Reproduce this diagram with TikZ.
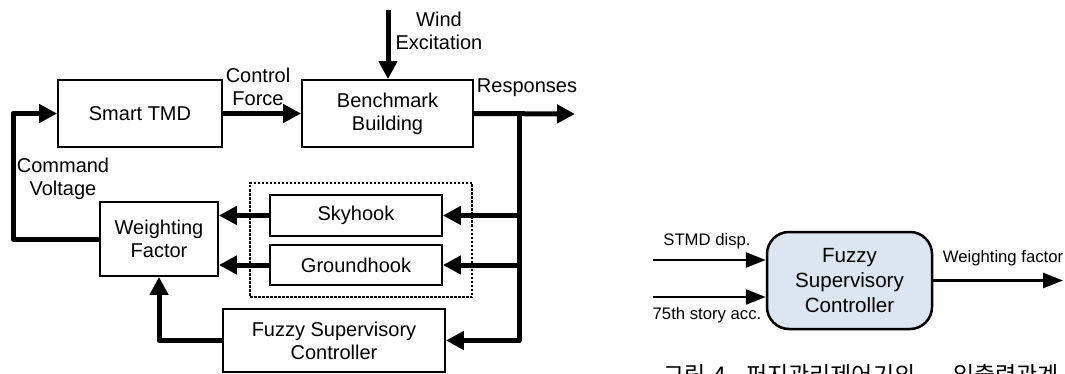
\documentclass[tikz,border=0pt]{standalone}
\usepackage{fontspec}
\setmainfont{Liberation Sans}
\newfontfamily\krfont{Noto Sans CJK KR}
\usetikzlibrary{arrows.meta}
\definecolor{boxfill}{RGB}{220,230,242}
\begin{document}
\begin{tikzpicture}[x=1pt,y=-1pt,
  box/.style={draw,line width=1.8pt,inner sep=0pt,align=center,font=\fontsize{20}{23}\selectfont},
  lbl/.style={inner sep=0pt,align=center,font=\fontsize{20}{23}\selectfont},
  bus/.style={line width=5pt,line join=round},
  busarrow/.style={bus,-{Triangle[length=18pt,width=18pt]}},
  thinarrow/.style={line width=2.5pt,-{Triangle[length=20pt,width=15pt]}},
  small/.style={inner sep=0pt,font=\fontsize{16.7}{20}\selectfont},
  fuzzybox/.style={draw,line width=2.5pt,rounded corners=22pt,fill=boxfill,align=center,
    font=\fontsize{20.6}{25}\selectfont,minimum width=165pt,minimum height=97pt,inner sep=0pt}
]
\clip (0,0) rectangle (1065,374);
% left diagram
\node[box,minimum width=164pt,minimum height=67pt] (smart) at (140,113.5) {Smart TMD};
\node[box,minimum width=171pt,minimum height=67pt] (bench) at (387.5,113.5) {Benchmark\\Building};
\node[draw,line width=2pt,dash pattern=on 2.5pt off 1.5pt,minimum width=222pt,minimum height=114pt,inner sep=0pt] (group) at (361,240) {};
\node[box,minimum width=172pt,minimum height=41pt] (sky) at (356,215.5) {Skyhook};
\node[box,minimum width=172pt,minimum height=40pt] (ground) at (356,265) {Groundhook};
\node[box,minimum width=118pt,minimum height=74pt] (wf) at (159,239) {Weighting\\Factor};
\node[box,minimum width=222pt,minimum height=63pt] (fsc) at (334,340.5) {Fuzzy Supervisory\\Controller};

\node[lbl] (wind) at (439,31) {Wind\\Excitation};
\node[lbl] (cf) at (258,86.5) {Control\\Force};
\node[lbl] (resp) at (527,88) {Responses};
\node[lbl] (cv) at (63,178.5) {Command\\Voltage};

\coordinate (windsrc) at (388,10);
\coordinate (respend) at (575,114);
\coordinate (busx) at (519,114);
\coordinate (fbx) at (13,0);

\draw[busarrow] (smart.east) -- (bench.west);
\draw[busarrow] (windsrc) -- (windsrc |- bench.north);
\draw[busarrow] (bench.east) -- (respend);
\draw[busarrow] (busx) |- (fsc.east);
\draw[busarrow] (busx |- sky.east) -- (sky.east);
\draw[busarrow] (busx |- ground.east) -- (ground.east);
\draw[busarrow] (sky.west) -- (sky.west -| wf.east);
\draw[busarrow] (ground.west) -- (ground.west -| wf.east);
\draw[busarrow] (fsc.west) -| (wf.south);
\draw[busarrow] (wf.west) -| (fbx |- smart.west) -- (smart.west);

% right diagram
\node[fuzzybox] (fz) at (849.5,280.5) {Fuzzy\\Supervisory\\Controller};
\coordinate (in1) at (653,260);
\coordinate (in2) at (653,297);
\coordinate (out) at (1063,280.5);
\draw[thinarrow] (in1) -- (in1 -| fz.west);
\draw[thinarrow] (in2) -- (in2 -| fz.west);
\draw[thinarrow] (fz.east) -- (out);
\node[small] (l1) at (707,241) {STMD disp.};
\node[small] (l2) at (707,315) {75th story acc.};
\node[small] (l3) at (1003,258) {Weighting factor};

\node[anchor=base west,inner sep=0pt,font=\krfont\fontsize{23}{23}\selectfont] (cap) at (663,383)
  {\makebox[50pt][l]{그림}\makebox[33pt][l]{4.}\makebox[207pt][l]{퍼지관리제어기의}입출력관계};
\end{tikzpicture}
\end{document}
